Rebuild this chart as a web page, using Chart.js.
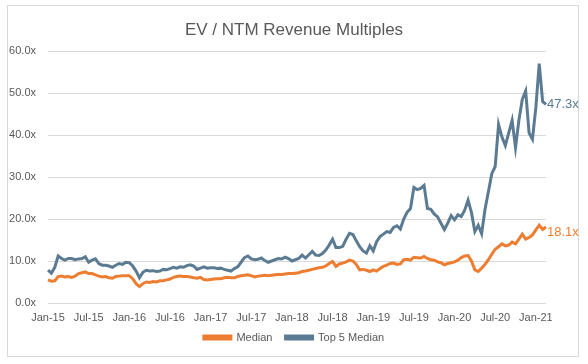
<!DOCTYPE html>
<html>
<head>
<meta charset="utf-8">
<title>EV / NTM Revenue Multiples</title>
<script src="https://cdn.jsdelivr.net/npm/chart.js@4/dist/chart.umd.min.js"></script>
<style>
  html, body { margin: 0; padding: 0; background: #fff; }
  #wrap { width: 588px; height: 364px; position: relative; }
</style>
</head>
<body>
<div id="wrap"><canvas id="chart"></canvas></div>
<script>
// Semi-monthly readings, Jan 2015 .. mid Feb 2021
const tickLabels = ['Jan-15', 'Jul-15', 'Jan-16', 'Jul-16', 'Jan-17', 'Jul-17', 'Jan-18',
  'Jul-18', 'Jan-19', 'Jul-19', 'Jan-20', 'Jul-20', 'Jan-21'];

const median = [
  5.5, 5.2, 5.3, 6.3, 6.4, 6.2, 6.3, 6.1, 6.4, 7.0, 7.2, 7.4, 7.0, 7.0, 6.7, 6.4, 6.2, 6.3, 6.0, 5.9, 6.3, 6.4, 6.5, 6.5,
  6.5, 5.8, 4.6, 3.9, 4.6, 5.0, 4.9, 5.1, 5.0, 5.3, 5.3, 5.5, 5.7, 6.1, 6.3, 6.4, 6.3, 6.3, 6.2, 6.0, 5.9, 6.1, 5.6, 5.5,
  5.6, 5.7, 5.8, 5.8, 6.0, 6.1, 6.0, 6.0, 6.3, 6.5, 6.6, 6.7, 6.5, 6.2, 6.4, 6.5, 6.6, 6.5, 6.6, 6.7, 6.8, 6.8, 6.9, 7.0,
  7.0, 7.1, 7.2, 7.5, 7.6, 7.8, 8.0, 8.2, 8.4, 8.5, 8.8, 9.4, 9.9, 8.7, 9.3, 9.5, 9.8, 10.2, 10.0, 9.2, 7.9, 8.0, 7.8, 7.5,
  7.9, 7.6, 8.2, 8.7, 9.0, 9.4, 9.5, 9.2, 9.3, 10.3, 10.4, 10.2, 10.9, 10.8, 10.7, 11.1, 10.6, 10.3, 10.2, 9.8, 9.6, 9.1, 9.4, 9.6,
  9.8, 10.2, 10.8, 11.2, 11.3, 10.0, 7.9, 7.5, 8.3, 9.2, 10.3, 11.6, 12.8, 13.4, 14.1, 13.6, 13.8, 14.5, 14.1, 15.2, 16.4, 15.2, 15.6, 16.2,
  17.4, 18.5, 17.5, 18.1
];

const top5Median = [
  7.8, 7.1, 8.5, 11.2, 10.6, 10.2, 10.6, 10.6, 10.3, 10.5, 10.6, 11.0, 9.7, 10.2, 10.5, 9.4, 9.0, 9.0, 8.8, 8.5, 9.0, 9.4, 9.2, 9.7,
  9.6, 8.8, 7.6, 6.0, 7.3, 7.8, 7.6, 7.7, 7.5, 7.6, 8.0, 7.9, 8.2, 8.5, 8.3, 8.6, 8.5, 8.9, 9.1, 8.8, 8.0, 8.3, 8.6, 8.3,
  8.4, 8.4, 8.2, 8.3, 8.0, 7.8, 7.6, 8.2, 8.6, 9.7, 10.8, 11.2, 10.5, 10.3, 10.4, 10.7, 10.1, 9.7, 10.0, 10.3, 10.6, 10.5, 10.9, 10.6,
  10.0, 10.3, 10.6, 11.4, 10.7, 11.5, 12.3, 11.4, 11.3, 11.8, 12.6, 13.8, 15.2, 13.2, 13.2, 13.5, 15.2, 16.6, 16.3, 14.8, 13.4, 12.4, 11.9, 13.6,
  12.4, 14.6, 15.8, 16.4, 17.0, 16.8, 18.0, 18.4, 17.6, 20.0, 21.6, 22.5, 27.5, 27.0, 27.3, 28.0, 22.5, 22.3, 21.2, 20.5, 19.0, 17.5, 19.0, 20.8,
  19.8, 21.0, 20.6, 22.1, 24.5, 21.5, 17.0, 18.5, 16.5, 22.3, 26.5, 30.8, 32.5, 42.5, 39.5, 37.5, 40.5, 43.5, 37.0, 43.5, 48.5, 50.5, 40.5, 39.0,
  46.5, 57.0, 48.0, 47.3
];

const orange = '#ED7D31';
const slate = '#5B7B93';
const textGrey = '#595959';
const gridGrey = '#D9D9D9';

// one category per half month
const periods = [];
for (let i = 0; i < median.length; i++) {
  const m = Math.floor(i / 2);
  const yr = 2015 + Math.floor(m / 12);
  periods.push(`${yr}-${String(m % 12 + 1).padStart(2, '0')}-${i % 2 ? '16' : '01'}`);
}

Chart.defaults.font.family = "'Liberation Sans', Arial, sans-serif";
Chart.defaults.color = textGrey;

// chart area border + white fill, like the spreadsheet frame
const frame = {
  id: 'frame',
  beforeDraw(chart) {
    const { ctx } = chart;
    ctx.save();
    ctx.fillStyle = '#fff';
    ctx.fillRect(0, 0, chart.width, chart.height);
    ctx.strokeStyle = gridGrey;
    ctx.lineWidth = 1;
    ctx.strokeRect(7.5, 5.5, 571, 351);
    ctx.restore();
  }
};

// value label after the last point of each line
const endLabels = {
  id: 'endLabels',
  afterDatasetsDraw(chart) {
    const { ctx } = chart;
    ctx.save();
    ctx.font = "13px 'Liberation Sans', Arial, sans-serif";
    ctx.textAlign = 'left';
    ctx.textBaseline = 'middle';
    chart.data.datasets.forEach((ds, i) => {
      const meta = chart.getDatasetMeta(i);
      const pt = meta.data[meta.data.length - 1];
      const val = ds.data[ds.data.length - 1];
      ctx.fillStyle = ds.borderColor;
      ctx.fillText(val.toFixed(1) + 'x', pt.x + 1, pt.y + (ds.labelShift || 0));
    });
    ctx.restore();
  }
};

new Chart(document.getElementById('chart'), {
  type: 'line',
  data: {
    labels: periods,
    datasets: [
      {
        label: 'Median',
        data: median,
        borderColor: orange,
        backgroundColor: orange,
        borderWidth: 3,
        pointRadius: 0,
        tension: 0,
        labelShift: 5
      },
      {
        label: 'Top 5 Median',
        data: top5Median,
        borderColor: slate,
        backgroundColor: slate,
        borderWidth: 3,
        pointRadius: 0,
        tension: 0
      }
    ]
  },
  options: {
    responsive: true,
    maintainAspectRatio: false,
    animation: false,
    layout: { padding: { top: 0, left: 0, right: 0, bottom: 11 } },
    plugins: {
      title: {
        display: true,
        text: 'EV / NTM Revenue Multiples',
        color: textGrey,
        font: { size: 17, weight: 'normal' },
        padding: { top: 20, bottom: 10.6 }
      },
      legend: {
        position: 'bottom',
        labels: {
          boxWidth: 27,
          boxHeight: 3,
          padding: 7,
          color: textGrey,
          font: { size: 11 },
          // a little extra room between the two entries, as in the original
          generateLabels: chart => Chart.defaults.plugins.legend.labels.generateLabels(chart)
            .map((item, i) => (i === 0 ? { ...item, text: item.text + '  ' } : item))
        }
      },
      tooltip: { enabled: false }
    },
    scales: {
      x: {
        grid: { display: false, drawTicks: false },
        border: { display: false },
        ticks: {
          autoSkip: false,
          maxRotation: 0,
          padding: 8,
          color: textGrey,
          font: { size: 11 },
          callback: (v, i) => (i % 12 === 0 ? tickLabels[i / 12] : null)
        },
        afterFit: s => { s.height = 22; }
      },
      y: {
        min: 0,
        max: 60,
        grid: { color: gridGrey, drawTicks: false },
        border: { display: false },
        ticks: {
          stepSize: 10,
          padding: 12,
          color: textGrey,
          font: { size: 11 },
          callback: v => v.toFixed(1) + 'x'
        },
        afterFit: s => { s.width = 48; }
      },
      yRight: {
        position: 'right',
        grid: { display: false, drawTicks: false },
        border: { display: false },
        ticks: { display: false },
        afterFit: s => { s.width = 42; }
      }
    }
  },
  plugins: [frame, endLabels]
});
</script>
</body>
</html>
